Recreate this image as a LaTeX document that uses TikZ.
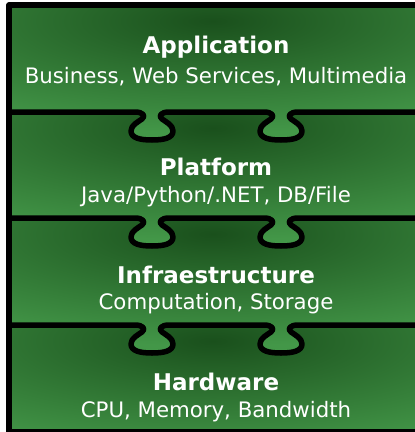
\documentclass[tikz,border=0pt]{standalone}
\usepackage{fontspec}
\setmainfont{DejaVu Sans}
\definecolor{glight}{RGB}{67,151,72}
\definecolor{gdark}{RGB}{26,80,28}
% puzzle tab hanging below a separator at height #2, centred on #1
\newcommand\puzzletab[2]{({#1-17},#2) .. controls ({#1-9},#2) and ({#1-6},{#2+4}) .. ({#1-10},{#2+7})
  .. controls ({#1-14},{#2+10}) and ({#1-21},{#2+13}) .. ({#1-21},{#2+19})
  .. controls ({#1-21},{#2+26}) and ({#1-12},{#2+28}) .. (#1,{#2+28})
  .. controls ({#1+12},{#2+28}) and ({#1+21},{#2+26}) .. ({#1+21},{#2+19})
  .. controls ({#1+21},{#2+13}) and ({#1+14},{#2+10}) .. ({#1+10},{#2+7})
  .. controls ({#1+6},{#2+4}) and ({#1+9},#2) .. ({#1+17},#2)}
\begin{document}
\begin{tikzpicture}[x=1pt, y=-1pt, line join=round, line cap=round,
  edge/.style={line width=5.5pt},
  title/.style={text=white, font=\bfseries\fontsize{23}{27}\selectfont},
  sub/.style={text=white, font=\fontsize{21.3}{25}\selectfont}]
\useasboundingbox (0,0) rectangle (415,432);
\fill[white] (0,0) rectangle (415,432);
\clip (0,0) rectangle (415,432);
% layers, lowest first so that each tab covers the layer below it
\foreach \yt/\yb in {325/432, 218/325, 112/218, 5/112}{
  \begin{scope}
    \clip (9,\yt) rectangle (430,\yb) \puzzletab{152}{\yb} -- cycle \puzzletab{281}{\yb} -- cycle;
    \fill[glight] (0,\yt-10) rectangle (430,\yb+40);
    \shade[inner color=gdark, outer color=glight] (213,\yt+16) ellipse (400 and 112);
  \end{scope}
}
% outline and separators
\draw[edge] (9,432) -- (9,5) -- (430,5);
\draw[edge] (9,432) -- (430,432);
\foreach \y in {112,218,325}
  \draw[edge] (9,\y) -- \puzzletab{152}{\y} -- \puzzletab{281}{\y} -- (430,\y);
% labels
\node[title] (app) at (216,47) {Application};
\node[sub] (appsub) at (216,77) {Business, Web Services, Multimedia};
\node[title] (plat) at (216,167) {Platform};
\node[sub] (platsub) at (216,197) {Java/Python/.NET, DB/File};
\node[title] (infra) at (216,275) {Infraestructure};
\node[sub] (infrasub) at (216,304) {Computation, Storage};
\node[title] (hw) at (216,382) {Hardware};
\node[sub] (hwsub) at (216,412) {CPU, Memory, Bandwidth};
\end{tikzpicture}
\end{document}
